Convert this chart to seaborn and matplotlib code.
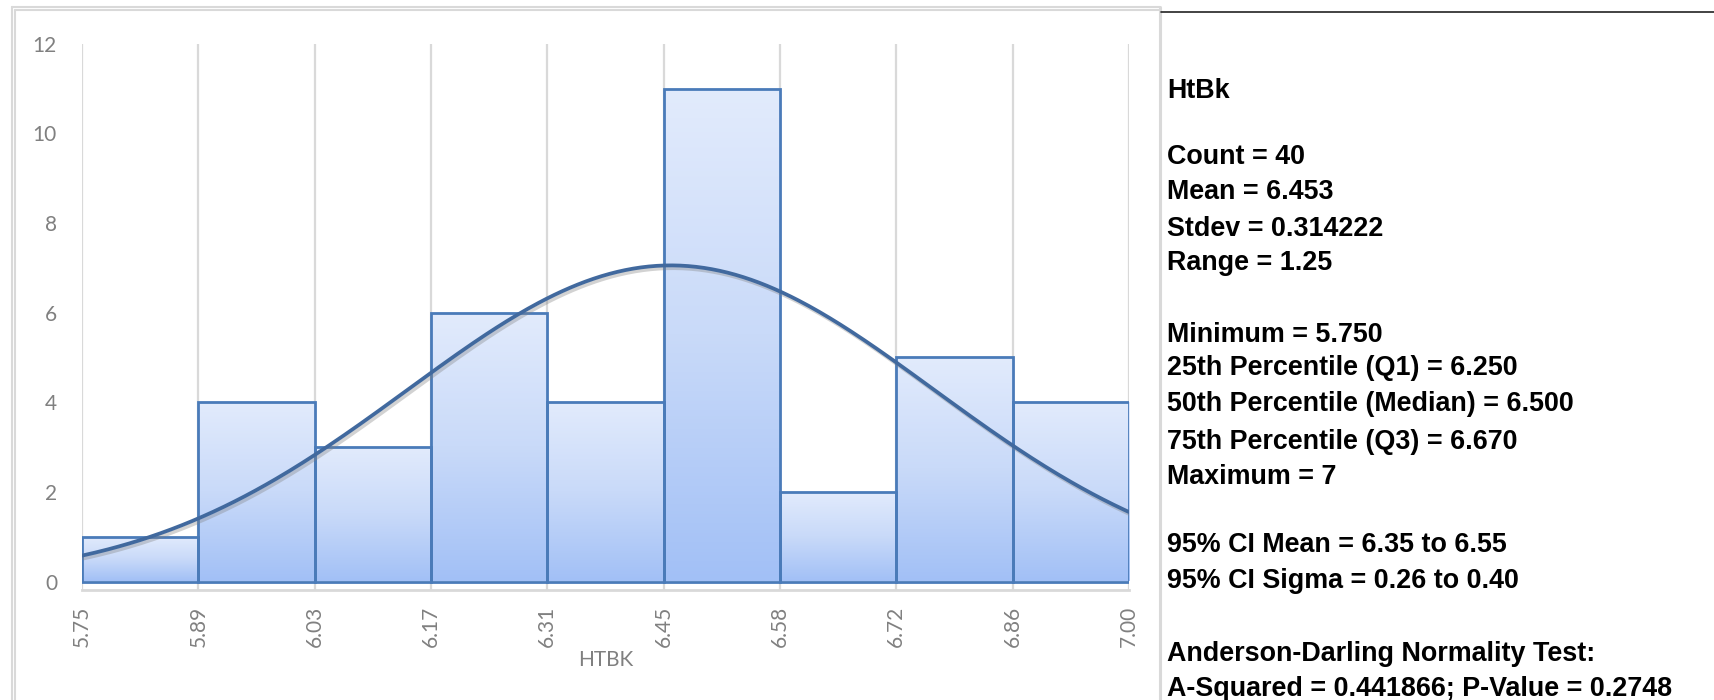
import numpy as np
import pandas as pd
import matplotlib
matplotlib.use("Agg")
import matplotlib.pyplot as plt
import seaborn as sns
from matplotlib.colors import LinearSegmentedColormap
from matplotlib.lines import Line2D
import matplotlib.patheffects as pe

# ---------------- data ----------------
variable_name = "HtBk"
axis_label = "HTBK"
bin_counts = [1, 4, 3, 6, 4, 11, 2, 5, 4]
tick_labels = ["5.75", "5.89", "6.03", "6.17", "6.31", "6.45", "6.58", "6.72", "6.86", "7.00"]
y_ticks = [0, 2, 4, 6, 8, 10, 12]
count = 40
mean = 6.453
stdev = 0.314222
data_range = 1.25
minimum = 5.750
q1 = 6.250
median = 6.500
q3 = 6.670
maximum = 7
ci_mean = (6.35, 6.55)
ci_sigma = (0.26, 0.40)
a_squared = 0.441866
p_value = 0.2748

# ---------------- style ----------------
sns.set_theme(style="white")
plt.rcParams['font.family'] = ['Lato', 'DejaVu Sans']

W, H = 1714, 700
fig = plt.figure(figsize=(W / 100, H / 100), dpi=100)


def fx(px):
    return px / W


def fy(py):
    return 1 - py / H


edges = np.linspace(minimum, maximum, len(bin_counts) + 1)
centers = (edges[:-1] + edges[1:]) / 2
df = pd.DataFrame({"x": centers, "n": bin_counts})

ax_left, ax_right = 82, 1129
y0px, y12px = 581.5, 43.7
ppu = (y0px - y12px) / 12
ymin = -0.18
bottom_px = y0px - ymin * ppu
ax = fig.add_axes([fx(ax_left), fy(bottom_px), (ax_right - ax_left) / W, (bottom_px - y12px) / H])
ax.set_axisbelow(True)

edge_col = "#4a7bb9"
sns.histplot(data=df, x="x", weights="n", bins=[float(e) for e in edges], ax=ax, stat="count",
             element="bars", fill=True, edgecolor=edge_col, linewidth=2.0, alpha=1)

cmap = LinearSegmentedColormap.from_list("g", ["#e2ebfc", "#c9daf9", "#a2c0f6"])
grad = np.linspace(0, 1, 256).reshape(-1, 1)
for p in list(ax.patches):
    x0, y0, w, h = p.get_x(), p.get_y(), p.get_width(), p.get_height()
    p.set_facecolor("none")
    p.set_edgecolor(edge_col)
    p.set_zorder(4)
    im = ax.imshow(grad, extent=[x0, x0 + w, y0, y0 + h], cmap=cmap, aspect="auto",
                   origin="upper", zorder=3, interpolation="bilinear")
    im.set_clip_path(p)

# normal curve
bw = edges[1] - edges[0]
xs = np.linspace(minimum, maximum, 400)
ys = count * bw * np.exp(-0.5 * ((xs - mean) / stdev) ** 2) / (stdev * np.sqrt(2 * np.pi))
sns.lineplot(x=xs, y=ys, ax=ax, color="#41699e", linewidth=2.7, zorder=6,
             path_effects=[pe.SimpleLineShadow(offset=(1.5, -2), shadow_color="#808080", alpha=0.35),
                           pe.Normal()])

ax.set_xlim(minimum, maximum)
ax.set_ylim(ymin, 12)
ax.set_xticks(edges)
ax.set_xticklabels(tick_labels, rotation=90)
ax.set_yticks(y_ticks)
ax.set_yticklabels([str(v) for v in y_ticks])
ax.tick_params(length=0, labelcolor="#808080", labelsize=15)
ax.tick_params(axis="x", pad=12)
ax.tick_params(axis="y", pad=18)
ax.grid(axis="x", color="#d9d9d9", linewidth=1.6)
ax.grid(axis="y", visible=False)
for s in ["left", "right", "top"]:
    ax.spines[s].set_visible(False)
ax.spines["bottom"].set_color("#d9d9d9")
ax.spines["bottom"].set_linewidth(2)
ax.set_xlabel("")
ax.set_ylabel("")

fig.text(fx(606), fy(660), axis_label, ha="center", va="center", color="#808080", fontsize=15)

# ---------------- frame ----------------
gray = "#d9d9d9"
for (xa, ya, xb, yb, c, lw) in [
    (12, 7, 1160, 7, gray, 1.5), (15, 10, 1160, 10, gray, 1.5),
    (12, 7, 12, 700, gray, 1.5), (15, 10, 15, 700, gray, 1.5),
    (1160, 7, 1160, 700, gray, 2.2),
    (1161, 12, 1714, 12, "#222222", 1.2),
]:
    fig.add_artist(Line2D([fx(xa), fx(xb)], [fy(ya), fy(yb)], color=c, linewidth=lw))

# ---------------- statistics text ----------------
stat_lines = [
    (90.7, variable_name),
    (157.4, f"Count = {count}"),
    (192.4, f"Mean = {mean:.3f}"),
    (228.5, f"Stdev = {stdev:.6f}"),
    (263.4, f"Range = {data_range:.2f}"),
    (334.5, f"Minimum = {minimum:.3f}"),
    (368.4, f"25th Percentile (Q1) = {q1:.3f}"),
    (404.4, f"50th Percentile (Median) = {median:.3f}"),
    (441.6, f"75th Percentile (Q3) = {q3:.3f}"),
    (476.6, f"Maximum = {maximum}"),
    (545.5, f"95% CI Mean = {ci_mean[0]:.2f} to {ci_mean[1]:.2f}"),
    (581.5, f"95% CI Sigma = {ci_sigma[0]:.2f} to {ci_sigma[1]:.2f}"),
    (653.7, "Anderson-Darling Normality Test:"),
    (688.7, f"A-Squared = {a_squared}; P-Value = {p_value}"),
]
for ypx, txt in stat_lines:
    fig.text(fx(1167), fy(ypx), txt, ha="left", va="center", fontsize=19.4,
             fontweight="bold", color="black", family=["Liberation Sans", "DejaVu Sans"])

fig.savefig("out.png", dpi=100)
